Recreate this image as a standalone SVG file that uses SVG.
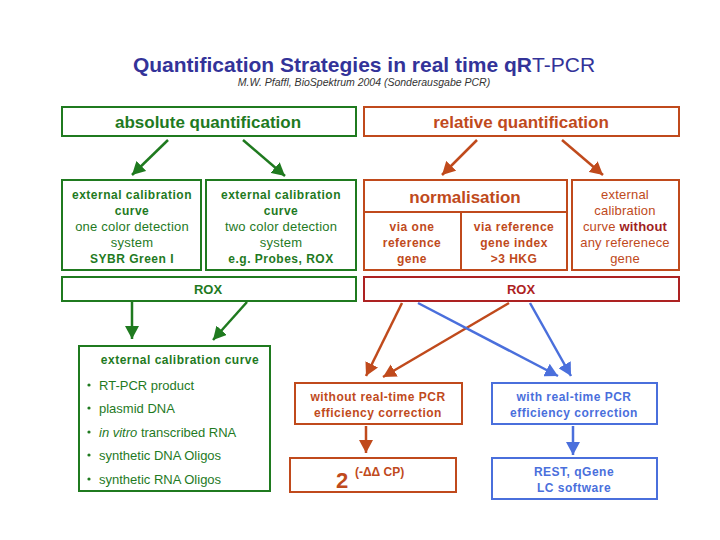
<svg xmlns="http://www.w3.org/2000/svg" width="720" height="540" viewBox="0 0 720 540">
<style>
text{font-family:"Liberation Sans",Arial,sans-serif;text-anchor:middle}
.g{fill:none;stroke:#1f7a1f;stroke-width:2}
.o{fill:none;stroke:#c04a1c;stroke-width:2}
.r{fill:none;stroke:#ad2222;stroke-width:2}
.b{fill:none;stroke:#4a6fdc;stroke-width:2}
.tg{fill:#1f7a1f}.to{fill:#c04a1c}.tr{fill:#ad2222}.tb{fill:#4a6fdc}
.big{font-size:17px;font-weight:bold}
.sb{font-size:12px;font-weight:bold;letter-spacing:0.5px}
.sn{font-size:13px;letter-spacing:0.2px}
.lg{stroke:#1f7a1f;stroke-width:2.5;fill:none}
.lo{stroke:#c04a1c;stroke-width:2.5;fill:none}
.lb{stroke:#4a6fdc;stroke-width:2.5;fill:none}
</style>
<defs>
<marker id="ag" markerUnits="userSpaceOnUse" markerWidth="14" markerHeight="14" refX="13" refY="7" orient="auto"><path d="M0,0 L13,7 L0,14 z" fill="#1f7a1f"/></marker>
<marker id="ao" markerUnits="userSpaceOnUse" markerWidth="14" markerHeight="14" refX="13" refY="7" orient="auto"><path d="M0,0 L13,7 L0,14 z" fill="#c04a1c"/></marker>
<marker id="ab" markerUnits="userSpaceOnUse" markerWidth="14" markerHeight="14" refX="13" refY="7" orient="auto"><path d="M0,0 L13,7 L0,14 z" fill="#4a6fdc"/></marker>
</defs>
<rect width="720" height="540" fill="#ffffff"/>

<g id="title">
<text x="364" y="72" font-size="21" font-weight="bold" fill="#333399">Quantification Strategies in real time qR<tspan font-weight="normal">T-PCR</tspan></text>
<text x="364" y="86" font-size="10.5" font-style="italic" fill="#333333">M.W. Pfaffl,  BioSpektrum 2004 (Sonderausgabe PCR)</text>
</g>

<g id="absolute">
<rect class="g" x="62" y="107" width="294" height="29"/>
<text class="big tg" x="208" y="128">absolute quantification</text>
</g>
<g id="relative">
<rect class="o" x="364" y="107" width="315" height="29"/>
<text class="big to" x="521" y="128">relative quantification</text>
</g>

<g id="ext-one">
<rect class="g" x="62" y="180" width="139" height="90"/>
<text class="sb tg" x="132" y="199">external calibration</text>
<text class="sb tg" x="132" y="215">curve</text>
<text class="sn tg" x="132" y="231">one color detection</text>
<text class="sn tg" x="132" y="247">system</text>
<text class="sb tg" x="132" y="263">SYBR Green I</text>
</g>
<g id="ext-two">
<rect class="g" x="206" y="180" width="150" height="90"/>
<text class="sb tg" x="281" y="199">external calibration</text>
<text class="sb tg" x="281" y="215">curve</text>
<text class="sn tg" x="281" y="231">two color detection</text>
<text class="sn tg" x="281" y="247">system</text>
<text class="sb tg" x="281" y="263">e.g. Probes, ROX</text>
</g>

<g id="normalisation">
<rect class="o" x="364" y="180" width="203" height="90"/>
<line class="o" x1="364" y1="212" x2="567" y2="212"/>
<line class="o" x1="461" y1="212" x2="461" y2="270"/>
<text class="big to" x="465" y="203">normalisation</text>
<text class="sb to" x="412" y="231">via one</text>
<text class="sb to" x="412" y="247">reference</text>
<text class="sb to" x="412" y="263">gene</text>
<text class="sb to" x="514" y="231">via reference</text>
<text class="sb to" x="514" y="247">gene index</text>
<text class="sb to" x="514" y="263">&gt;3 HKG</text>
</g>
<g id="ext-without">
<rect class="o" x="572" y="180" width="107" height="90"/>
<text class="sn to" x="625" y="199">external</text>
<text class="sn to" x="625" y="215">calibration</text>
<text class="sn to" x="625" y="231">curve <tspan font-weight="bold" fill="#a01e1e">without</tspan></text>
<text class="sn to" x="625" y="247">any referenece</text>
<text class="sn to" x="625" y="263">gene</text>
</g>

<g id="rox-green">
<rect class="g" x="62" y="277" width="294" height="24"/>
<text class="tg" x="208" y="294" font-size="13" font-weight="bold">ROX</text>
</g>
<g id="rox-red">
<rect class="r" x="364" y="277" width="315" height="24"/>
<text class="tr" x="521" y="294" font-size="13" font-weight="bold">ROX</text>
</g>

<g id="ext-list">
<rect class="g" x="79" y="346" width="191" height="145"/>
<text class="sb tg" x="180" y="364">external calibration curve</text>
<g class="tg" style="font-size:13px">
<circle cx="89" cy="385" r="1.6" fill="#1f7a1f"/>
<text x="99" y="390" style="text-anchor:start">RT-PCR product</text>
<circle cx="89" cy="408" r="1.6" fill="#1f7a1f"/>
<text x="99" y="413" style="text-anchor:start">plasmid DNA</text>
<circle cx="89" cy="432" r="1.6" fill="#1f7a1f"/>
<text x="99" y="437" style="text-anchor:start"><tspan font-style="italic">in vitro</tspan> transcribed RNA</text>
<circle cx="89" cy="455" r="1.6" fill="#1f7a1f"/>
<text x="99" y="460" style="text-anchor:start">synthetic DNA Oligos</text>
<circle cx="89" cy="479" r="1.6" fill="#1f7a1f"/>
<text x="99" y="484" style="text-anchor:start">synthetic RNA Oligos</text>
</g>
</g>

<g id="without-corr">
<rect class="o" x="295" y="383" width="167" height="41"/>
<text class="sb to" x="378" y="401">without real-time PCR</text>
<text class="sb to" x="378" y="417">efficiency correction</text>
</g>
<g id="with-corr">
<rect class="b" x="492" y="383" width="165" height="41"/>
<text class="sb tb" x="574" y="401">with real-time PCR</text>
<text class="sb tb" x="574" y="417">efficiency correction</text>
</g>
<g id="ddcp">
<rect class="o" x="290" y="458" width="166" height="34"/>
<text class="to" x="342" y="488" font-size="22" font-weight="bold">2</text>
<text class="to" x="355" y="476" font-size="12" font-weight="bold" style="text-anchor:start">(-ΔΔ CP)</text>
</g>
<g id="rest">
<rect class="b" x="492" y="458" width="165" height="41"/>
<text class="sb tb" x="574" y="476">REST, qGene</text>
<text class="sb tb" x="574" y="492">LC software</text>
</g>

<g id="connectors">
<line class="lg" x1="168" y1="140" x2="132" y2="175" marker-end="url(#ag)"/>
<line class="lg" x1="243" y1="140" x2="285" y2="176" marker-end="url(#ag)"/>
<line class="lo" x1="477" y1="140" x2="442" y2="175" marker-end="url(#ao)"/>
<line class="lo" x1="562" y1="140" x2="603" y2="175" marker-end="url(#ao)"/>
<line class="lg" x1="132" y1="302" x2="132" y2="339" marker-end="url(#ag)"/>
<line class="lg" x1="247" y1="302" x2="213" y2="340" marker-end="url(#ag)"/>
<line class="lo" x1="402" y1="303" x2="366" y2="376" marker-end="url(#ao)"/>
<line class="lo" x1="509" y1="303" x2="383" y2="377" marker-end="url(#ao)"/>
<line class="lb" x1="418" y1="303" x2="558" y2="376" marker-end="url(#ab)"/>
<line class="lb" x1="530" y1="303" x2="571" y2="376" marker-end="url(#ab)"/>
<line class="lo" x1="366" y1="426" x2="366" y2="453" marker-end="url(#ao)"/>
<line class="lb" x1="573" y1="426" x2="573" y2="455" marker-end="url(#ab)"/>
</g>
</svg>
